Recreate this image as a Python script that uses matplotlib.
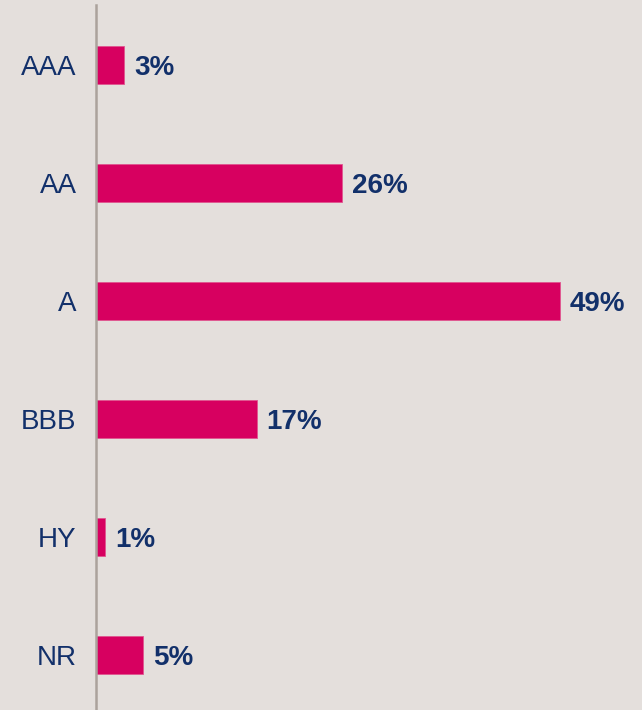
import matplotlib
matplotlib.use("Agg")
import matplotlib.pyplot as plt

# Credit rating breakdown (% of portfolio)
ratings = ["AAA", "AA", "A", "BBB", "HY", "NR"]
shares = [3, 26, 49, 17, 1, 5]

bg = "#E4DFDC"
bar_color = "#D70060"
text_color = "#12306A"

plt.rcParams["font.family"] = ["Liberation Sans", "DejaVu Sans"]

fig = plt.figure(figsize=(6.42, 7.10), dpi=100, facecolor=bg)
ax = fig.add_axes([96 / 642, 0, 546 / 642, 705 / 710])
ax.set_facecolor(bg)

pos = list(range(len(ratings)))
ax.barh(pos, shares, height=0.322, color=bar_color, edgecolor="#E0558F", linewidth=0.6)

for y, v in zip(pos, shares):
    ax.annotate(f"{v}%", xy=(v, y), xytext=(7, -2), textcoords="offset points",
                ha="left", va="center", fontsize=20, fontweight="bold", color=text_color)

ax.set_xlim(0, 57.65)
ax.set_ylim(5.466, -0.508)
ax.set_yticks(pos)
ax.set_yticklabels(ratings, fontsize=20, color=text_color, va="center_baseline")
ax.tick_params(axis="y", length=0, pad=14)
ax.set_xticks([])

for side in ["top", "right", "bottom"]:
    ax.spines[side].set_visible(False)
ax.spines["left"].set_color("#ABA29C")
ax.spines["left"].set_linewidth(1.8)

fig.savefig("out.png", dpi=100, facecolor=bg)
